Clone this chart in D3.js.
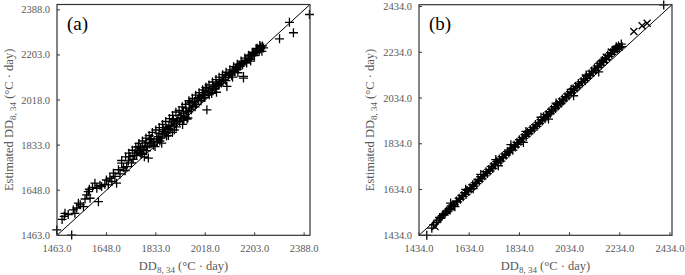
<!DOCTYPE html>
<html>
<head>
<meta charset="utf-8">
<title>DD8,34 estimated vs observed</title>
<script src="https://d3js.org/d3.v7.min.js"></script>
<style>
  body { margin: 0; background: #fff; }
  svg { display: block; }
  .tick-label { font-family: "Liberation Serif", "Times New Roman", serif; font-size: 10.5px; fill: #595959; }
  .axis-title { font-family: "Liberation Serif", "Times New Roman", serif; font-size: 12.5px; fill: #595959; }
  .panel-tag { font-family: "Liberation Serif", "Times New Roman", serif; font-size: 19px; fill: #000; }
</style>
</head>
<body>
<div id="chart"></div>
<script>
// ---- data ----
const ticksA = [1463, 1648, 1833, 2018, 2203, 2388];
const ticksB = [1434, 1634, 1834, 2034, 2234, 2434];

// panel (a): observed DD8,34 vs estimated
const obsA = [1462,1518,1482,1490,1493,1505,1524,1530,1537,1543,1550,1562,1568,1574,1580,1587,1584,1596,1605,1612,
  1618,1624,1630,1642,1655,1661,1648,1668,1674,1686,1680,1693,1699,1705,1712,1718,1724,1730,1736,1742,
  1748,1755,1761,1767,1772,1778,1786,1792,1798,1805,1810,1811,1818,1824,1830,1836,1842,1848,1855,1858,
  1861,1867,1873,1878,1886,1890,1895,1899,1904,1910,1916,1922,1928,1933,1936,1942,1948,1953,1958,1961,
  1966,1972,1978,1984,1990,1996,2002,2008,2011,2016,2024,2024,2030,2036,2042,2049,2055,2060,2066,2072,
  2078,2086,2092,2099,2104,2111,2116,2122,2128,2135,2141,2148,2152,2161,2161,2166,2173,2178,2184,2190,
  2196,2202,2208,2214,2220,2225,2230,2236,2232,2296,2333,2348,2408,
  1752,1764,1776,1782,1795,1802,1815,1826,1838,1845,1852,1864,1870,1882,1893,1902,1912,1925,1938,1945,
  1956,1968,1980,1993,2005,2013,2020,2033,2045,2058,2070,2082,2095,2108,2120,2132,2145,2158,2170,2188,
  2200,2212,2226,
  1705,1720,1732,1745,1758,1770,1783,1796,1808,1820,1833,1846,1858,1870,1884,1896,1908,1920,1932,1944,
  1957,1970,1982,1995,2008,2020,2032,2045,2058,2070,2083,2096,2110,2124,2138,2152,2166,2180,2194,2208,
  2222,1790,1880,1950,2060,2140];
const estA = [1485,1464,1528,1541,1553,1548,1567,1553,1575,1595,1588,1581,1612,1629,1642,1615,1652,1660,1677,1656,
  1601,1668,1663,1672,1670,1697,1690,1684,1718,1677,1705,1732,1715,1759,1740,1728,1745,1768,1786,1760,
  1775,1800,1790,1827,1805,1795,1814,1830,1810,1780,1838,1855,1845,1832,1827,1858,1868,1850,1841,1878,
  1896,1882,1870,1900,1896,1915,1885,1937,1920,1908,1942,1930,1955,1918,1964,1950,1972,1945,1985,2006,
  1978,1995,2012,2000,2022,2030,2015,2040,2047,2028,1978,2067,2050,2058,2045,2074,2065,2085,2078,2095,
  2088,2101,2110,2074,2118,2129,2120,2140,2135,2150,2145,2156,2170,2108,2115,2175,2170,2190,2185,2198,
  2206,2200,2215,2222,2218,2228,2218,2232,2240,2269,2337,2294,2369,
  1790,1812,1822,1800,1842,1825,1860,1848,1845,1880,1862,1888,1905,1910,1928,1895,1932,1945,1935,1985,
  1970,2010,1990,2015,2025,2035,2055,2040,2068,2080,2080,2112,2098,2125,2112,2148,2160,2165,2182,2178,
  2212,2230,2236,
  1770,1785,1800,1812,1825,1840,1850,1862,1872,1885,1895,1905,1918,1930,1942,1955,1968,1975,1990,2000,
  2015,2025,2038,2048,2060,2070,2080,2092,2102,2112,2122,2132,2142,2155,2165,2178,2190,2202,2214,2228,
  2242,1785,1872,1940,2050,2130];

// panel (b): "+" markers
const obsB = [1465,1485,1492,1503,1510,1516,1521,1527,1532,1538,1543,1549,1554,1558,1563,1569,1574,1577,1583,1588,
  1594,1599,1605,1610,1616,1621,1626,1632,1637,1642,1648,1653,1658,1664,1669,1674,1680,1685,1690,1696,
  1701,1706,1712,1717,1722,1728,1733,1738,1744,1749,1754,1760,1765,1770,1776,1781,1786,1792,1797,1802,
  1808,1813,1818,1824,1829,1834,1840,1845,1850,1856,1861,1866,1872,1877,1882,1888,1893,1898,1904,1909,
  1914,1920,1925,1930,1936,1941,1946,1952,1957,1962,1968,1973,1978,1984,1989,1994,2000,2005,2010,2016,
  2021,2026,2032,2037,2042,2048,2053,2058,2064,2069,2074,2080,2085,2090,2096,2101,2106,2112,2117,2122,
  2128,2133,2138,2144,2149,2154,2160,2165,2170,2176,2181,2186,2192,2197,2202,2208,2213,2218,2224,2229,
  2234,2240,2243,2409,
  1560,1620,1680,1740,1800,1860,1920,1980,2040,2100,2160,2220,1650,1750,1850,1950,2050,2150];
const estB = [1434,1465,1480,1490,1500,1512,1508,1520,1526,1530,1540,1538,1550,1545,1562,1566,1568,1559,1584,1580,
  1596,1592,1608,1603,1620,1612,1630,1625,1642,1636,1655,1648,1664,1660,1678,1670,1690,1681,1700,1694,
  1712,1704,1722,1715,1735,1726,1746,1740,1756,1750,1768,1758,1778,1772,1790,1784,1800,1794,1807,1816,
  1806,1828,1820,1840,1832,1852,1845,1862,1858,1874,1866,1884,1878,1896,1890,1906,1900,1918,1910,1928,
  1922,1940,1934,1952,1944,1962,1956,1974,1966,1985,1978,1996,1988,2006,2000,2018,2010,2030,2022,2040,
  2034,2052,2044,2062,2056,2075,2066,2085,2078,2098,2088,2106,2100,2118,2110,2130,2120,2140,2132,2152,
  2144,2165,2155,2175,2168,2186,2178,2198,2190,2210,2202,2222,2215,2232,2225,2245,2238,2252,2248,2262,
  2255,2270,2259,2441,
  1575,1635,1700,1765,1830,1888,1950,2012,2072,2135,2195,2258,1638,1738,1840,1942,2044,2148];

// panel (b): "x" markers
const obsB2 = [1498,2180,2200,2215,2290,2323,2343];
const estB2 = [1472,2212,2235,2244,2325,2350,2361];

// ---- layout ----
const W = 685, H = 275;
const svg = d3.select("#chart").append("svg").attr("width", W).attr("height", H);

const panels = [
  { tag: "(a)", left: 57, right: 310, top: 4.5, bottom: 235.3, dom: [1463, 2410], ticks: ticksA,
    series: [{ x: obsA, y: estA, shape: "plus" }], titleX: 13 },
  { tag: "(b)", left: 419, right: 672, top: 4.7, bottom: 235.3, dom: [1434, 2442], ticks: ticksB,
    series: [{ x: obsB, y: estB, shape: "plus" }, { x: obsB2, y: estB2, shape: "cross" }], titleX: 374 }
];

const fmt = d3.format(".1f");

function addDDLabel(textSel) {
  textSel.append("tspan").text("DD");
  textSel.append("tspan").attr("font-size", "9px").attr("dy", 3).text("8, 34");
  textSel.append("tspan").attr("dy", -3).text(" (°C · day)");
}

panels.forEach(p => {
  const x = d3.scaleLinear().domain(p.dom).range([p.left, p.right]);
  const y = d3.scaleLinear().domain(p.dom).range([p.bottom, p.top]);
  const g = svg.append("g");

  // points
  const s = 4.5;
  p.series.forEach(ser => {
    const pts = ser.x.map((v, i) => [x(v), y(ser.y[i])]);
    g.append("path")
      .attr("fill", "none")
      .attr("stroke", "#000")
      .attr("stroke-width", 1.3)
      .attr("d", pts.map(([px, py]) => ser.shape === "plus"
        ? `M${px - s},${py}H${px + s}M${px},${py - s}V${py + s}`
        : `M${px - 3.5},${py - 3.5}L${px + 3.5},${py + 3.5}M${px - 3.5},${py + 3.5}L${px + 3.5},${py - 3.5}`).join(""));
  });

  // 1:1 line
  g.append("line")
    .attr("x1", x(p.dom[0])).attr("y1", y(p.dom[0]))
    .attr("x2", x(p.dom[1])).attr("y2", y(p.dom[1]))
    .attr("stroke", "#000").attr("stroke-width", 1);

  // frame
  g.append("rect")
    .attr("x", p.left).attr("y", p.top)
    .attr("width", p.right - p.left).attr("height", p.bottom - p.top)
    .attr("fill", "none").attr("stroke", "#333").attr("stroke-width", 1.2);

  // ticks (inside) and labels
  g.selectAll(".xt").data(p.ticks).join("line")
    .attr("x1", d => x(d)).attr("x2", d => x(d))
    .attr("y1", p.bottom).attr("y2", p.bottom - 3)
    .attr("stroke", "#333");
  g.selectAll(".yt").data(p.ticks).join("line")
    .attr("y1", d => y(d)).attr("y2", d => y(d))
    .attr("x1", p.left).attr("x2", p.left + 3)
    .attr("stroke", "#333");

  g.selectAll(".xl").data(p.ticks).join("text")
    .attr("class", "tick-label")
    .attr("x", d => x(d)).attr("y", 252)
    .attr("text-anchor", "middle")
    .text(fmt);
  g.selectAll(".yl").data(p.ticks).join("text")
    .attr("class", "tick-label")
    .attr("x", p.left - 7).attr("y", d => y(d) + 3.5)
    .attr("text-anchor", "end")
    .text(fmt);

  // axis titles
  const xt = g.append("text").attr("class", "axis-title")
    .attr("x", (p.left + p.right) / 2).attr("y", 270)
    .attr("text-anchor", "middle");
  addDDLabel(xt);

  const yt = g.append("text").attr("class", "axis-title")
    .attr("transform", `translate(${p.titleX},${(p.top + p.bottom) / 2}) rotate(-90)`)
    .attr("text-anchor", "middle");
  yt.append("tspan").text("Estimated ");
  addDDLabel(yt);

  // panel tag
  g.append("text").attr("class", "panel-tag")
    .attr("x", p.left + 10).attr("y", 30)
    .text(p.tag);
});
</script>
</body>
</html>
